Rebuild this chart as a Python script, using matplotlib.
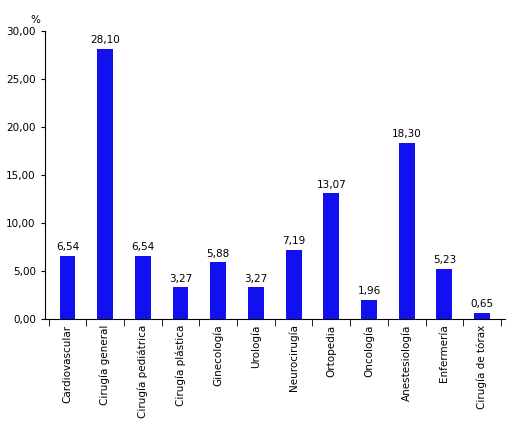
import matplotlib
matplotlib.use("Agg")
import matplotlib.pyplot as plt

categories = ["Cardiovascular", "Cirugía general", "Cirugía pediátrica", "Cirugía plástica",
              "Ginecología", "Urología", "Neurocirugía", "Ortopedia", "Oncología",
              "Anestesiología", "Enfermería", "Cirugía de tórax"]
values = [6.54, 28.10, 6.54, 3.27, 5.88, 3.27, 7.19, 13.07, 1.96, 18.30, 5.23, 0.65]
yticks = [0, 5, 10, 15, 20, 25, 30]

plt.rcParams['font.family'] = ['DejaVu Sans']
plt.rcParams['font.size'] = 7.5

fig = plt.figure(figsize=(5.15, 4.28), dpi=100)
ax = fig.add_axes([0.087, 0.255, 0.893, 0.673])

x = range(len(categories))
ax.bar(x, values, width=0.42, color="#1010F0")
for i, v in zip(x, values):
    ax.text(i, v + 0.4, f"{v:.2f}".replace(".", ","), ha="center", va="bottom")

ax.set_xlim(-0.6, len(categories) - 0.4)
ax.set_ylim(0, 30)
ax.set_yticks(yticks)
ax.set_yticklabels([f"{t:.2f}".replace(".", ",") for t in yticks])
ax.set_xticks(list(x))
ax.set_xticklabels(categories, rotation=90)
ax.set_xticks([i + 0.5 for i in range(-1, len(categories))], minor=True)
ax.tick_params(axis="x", which="major", length=0, pad=4)
ax.tick_params(axis="x", which="minor", length=5)
ax.tick_params(axis="y", length=3)
ax.spines["top"].set_visible(False)
ax.spines["right"].set_visible(False)
ax.text(-0.01, 1.02, "%", transform=ax.transAxes, ha="right", va="bottom")

fig.savefig("out.png", dpi=100)
